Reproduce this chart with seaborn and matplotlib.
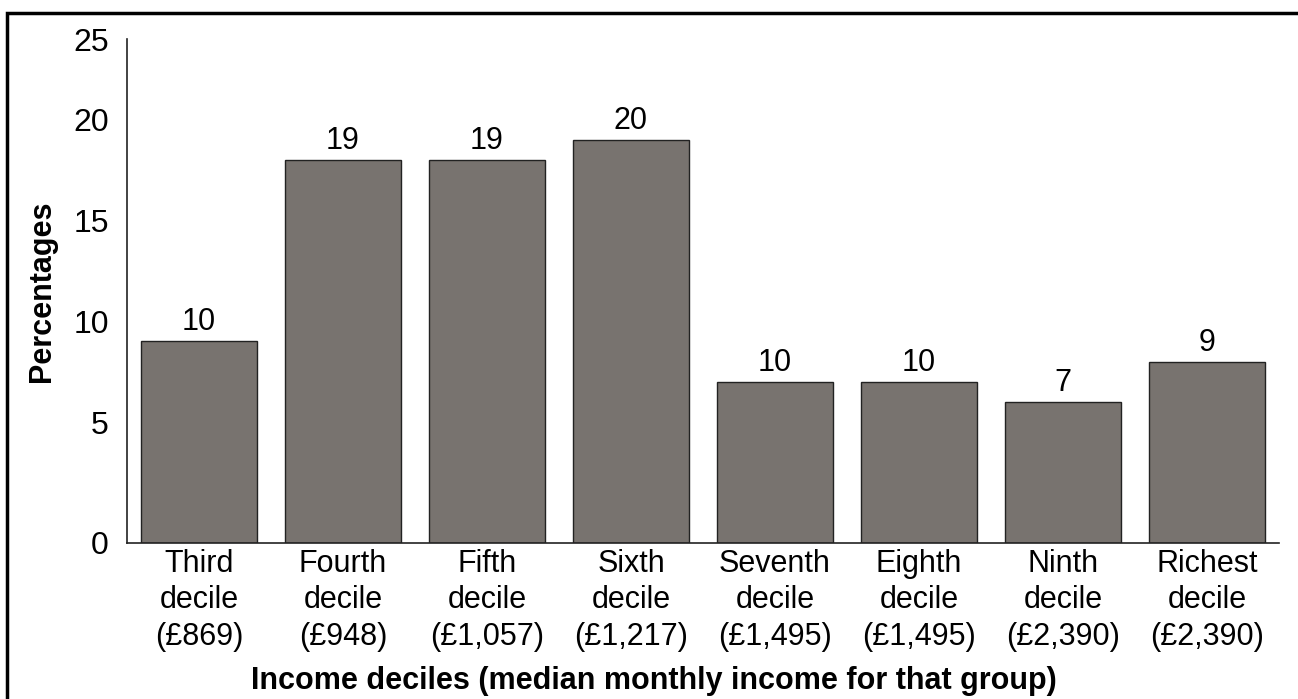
import matplotlib
matplotlib.use("Agg")
import matplotlib.pyplot as plt
import matplotlib.transforms as mtransforms
from matplotlib.patches import Rectangle
import pandas as pd
import seaborn as sns

# Data
categories = ["Third\ndecile\n(£869)", "Fourth\ndecile\n(£948)", "Fifth\ndecile\n(£1,057)",
              "Sixth\ndecile\n(£1,217)", "Seventh\ndecile\n(£1,495)", "Eighth\ndecile\n(£1,495)",
              "Ninth\ndecile\n(£2,390)", "Richest\ndecile\n(£2,390)"]
values = [10, 19, 19, 20, 8, 8, 7, 9]
bar_labels = ["10", "19", "19", "20", "10", "10", "7", "9"]
y_ticks = [0, 5, 10, 15, 20, 25]

sns.set_theme(style="white")
plt.rcParams['font.family'] = ['Liberation Sans', 'DejaVu Sans']
plt.rcParams['text.color'] = 'black'
plt.rcParams['axes.labelcolor'] = 'black'
plt.rcParams['xtick.color'] = 'black'
plt.rcParams['ytick.color'] = 'black'

df = pd.DataFrame({"decile": categories, "pct": values})

fig = plt.figure(figsize=(12.98, 6.99), dpi=100)
ax = fig.add_axes([0.0978, 0.2232, 0.8876, 0.721])

sns.barplot(data=df, x="decile", y="pct", color="#78736f", saturation=1,
            edgecolor="#222222", linewidth=1.0, width=0.8, ax=ax)

for i, (v, lab) in enumerate(zip(values, bar_labels)):
    ax.text(i, v + 0.2, lab, ha="center", va="bottom", fontsize=22, color="black")

ax.set_ylim(0, 25)
ax.set_xlim(-0.5, len(categories) - 0.5)
ax.set_yticks(y_ticks)
ax.set_yticklabels([str(t) for t in y_ticks], fontsize=23)
ax.set_xticks(range(len(categories)))
ax.set_xticklabels(categories, fontsize=22, linespacing=1.3)
ax.tick_params(axis="x", length=0, pad=4)
ax.tick_params(axis="y", length=0, pad=13)

# the middle y labels sit about one unit higher in the reference
for lab in ax.get_yticklabels()[1:-1]:
    lab.set_transform(lab.get_transform() + mtransforms.ScaledTranslation(0, 0.2, fig.dpi_scale_trans))

for side in ["top", "right"]:
    ax.spines[side].set_visible(False)
for side in ["left", "bottom"]:
    ax.spines[side].set_color("#222222")
    ax.spines[side].set_linewidth(1.2)

ax.set_xlabel("Income deciles (median monthly income for that group)", fontsize=22,
              fontweight="bold")
ax.xaxis.set_label_coords(0.457, -0.245)
ax.set_ylabel("Percentages", fontsize=22, fontweight="bold", labelpad=12)

# frame around the figure (only left and top edges fall inside the image)
fig.patches.append(Rectangle((7 / 1298, -0.05), 1.1, 1 - 13 / 699 + 0.05, transform=fig.transFigure,
                             fill=False, edgecolor="black", linewidth=2.5))

fig.savefig("out.png", dpi=100)
